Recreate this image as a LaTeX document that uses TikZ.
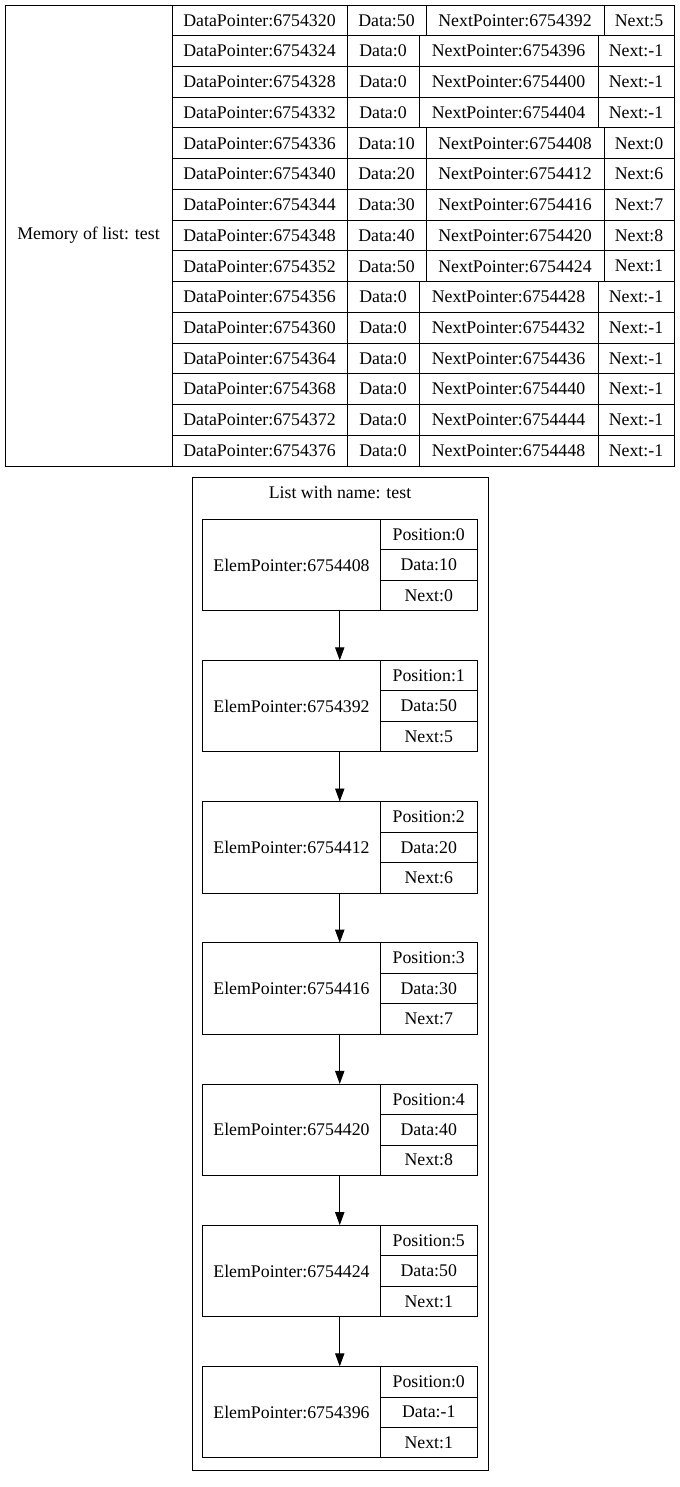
\documentclass[tikz,border=0pt]{standalone}
\usepackage{fontspec}
\setmainfont{Liberation Serif}
\usetikzlibrary{arrows.meta}
\begin{document}
\begin{tikzpicture}[x=1bp, y=-1bp,
  every node/.style={font=\fontsize{17.8bp}{21bp}\selectfont, inner sep=0pt},
  cell/.style={draw=black, line width=0.9bp, minimum height=#1},
  cell/.default={30.733bp},
  link/.style={draw=black, line width=0.9bp, -{Triangle[length=13bp,width=9.3bp]}}]
\useasboundingbox (0,0) rectangle (680,1487);

% memory table: label column and one row per allocated cell
\node[cell=461bp, minimum width=167bp] (mem) at (88.5,235.5) {Memory of list: test};
\foreach \r/\memptr/\memdat/\memnp/\memnx/\ba/\bb in {
  1/6754320/50/6754392/5/426/604,
  2/6754324/0/6754396/-1/419/598,
  3/6754328/0/6754400/-1/419/598,
  4/6754332/0/6754404/-1/419/598,
  5/6754336/10/6754408/0/426/604,
  6/6754340/20/6754412/6/426/604,
  7/6754344/30/6754416/7/426/604,
  8/6754348/40/6754420/8/426/604,
  9/6754352/50/6754424/1/426/604,
  10/6754356/0/6754428/-1/419/598,
  11/6754360/0/6754432/-1/419/598,
  12/6754364/0/6754436/-1/419/598,
  13/6754368/0/6754440/-1/419/598,
  14/6754372/0/6754444/-1/419/598,
  15/6754376/0/6754448/-1/419/598} {
  \pgfmathsetmacro\rowc{5+(\r-0.5)*461/15}
  \pgfmathsetmacro\wa{\ba-347}
  \pgfmathsetmacro\ca{(\ba+347)/2}
  \pgfmathsetmacro\wb{\bb-\ba}
  \pgfmathsetmacro\cb{(\bb+\ba)/2}
  \pgfmathsetmacro\wc{674-\bb}
  \pgfmathsetmacro\cc{(674+\bb)/2}
  \node[cell, minimum width=175bp] (dp\r) at (259.5,\rowc) {DataPointer:\memptr};
  \node[cell, minimum width=\wa bp] (d\r) at (\ca,\rowc) {Data:\memdat};
  \node[cell, minimum width=\wb bp] (np\r) at (\cb,\rowc) {NextPointer:\memnp};
  \node[cell, minimum width=\wc bp] (n\r) at (\cc,\rowc) {Next:\memnx};
}

% list cluster
\node[draw=black, line width=0.9bp, minimum width=296bp, minimum height=993bp] (cluster) at (340,973.5) {};
\node (title) at (340,492) {List with name: test};

% list elements
\foreach \k/\elptr/\elpos/\eldat/\elnx in {
  0/6754408/0/10/0,
  1/6754392/1/50/5,
  2/6754412/2/20/6,
  3/6754416/3/30/7,
  4/6754420/4/40/8,
  5/6754424/5/50/1,
  6/6754396/0/-1/1} {
  \pgfmathsetmacro\ytop{519.3+\k*141.2}
  \pgfmathsetmacro\ymid{\ytop+45.65}
  \node[minimum width=274.5bp, minimum height=91.3bp] (rec\k) at (339.75,\ymid) {};
  \node[cell=91.3bp, minimum width=178bp] (ep\k) at (291.5,\ymid) {ElemPointer:\elptr};
  \node[cell=30.433bp, minimum width=96.5bp] (pos\k) at (428.75,\ytop+15.217) {Position:\elpos};
  \node[cell=30.433bp, minimum width=96.5bp] (dat\k) at (428.75,\ymid) {Data:\eldat};
  \node[cell=30.433bp, minimum width=96.5bp] (nxt\k) at (428.75,\ytop+76.083) {Next:\elnx};
}
\foreach \a/\b in {0/1,1/2,2/3,3/4,4/5,5/6}
  \draw[link] (rec\a.south) -- (rec\b.north);
\end{tikzpicture}
\end{document}
